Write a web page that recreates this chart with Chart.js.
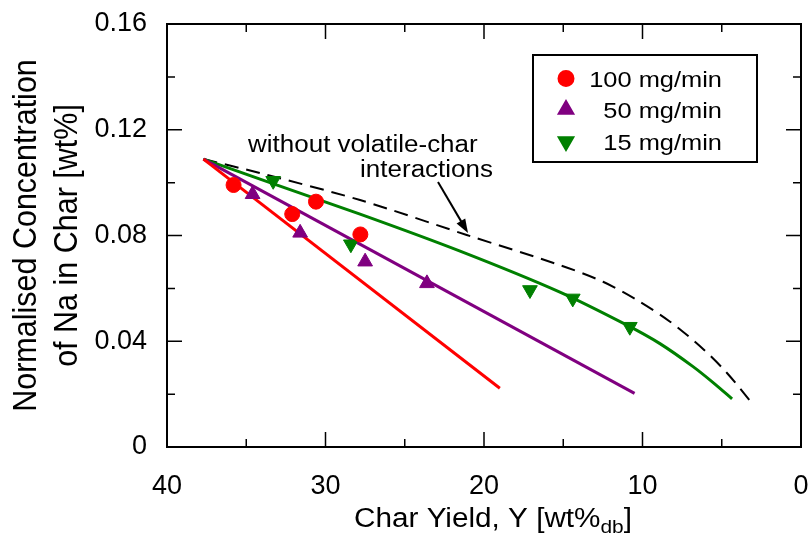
<!DOCTYPE html>
<html>
<head>
<meta charset="utf-8">
<script src="https://cdn.jsdelivr.net/npm/chart.js@4.4.1/dist/chart.umd.min.js"></script>
<style>
    html, body { margin: 0; padding: 0; background: #fff; }
    #wrap { width: 811px; height: 539px; }
</style>
</head>
<body>
<div id="wrap"><canvas id="naChart" width="811" height="539"></canvas></div>
<script>
// Measured points (char yield wt%, normalised Na wt%)
var red100X = [35.8, 32.1, 30.6, 27.8];
var red100Y = [0.0991, 0.0881, 0.0928, 0.0804];
var purple50X = [34.6, 31.6, 27.5, 23.6];
var purple50Y = [0.0956, 0.0810, 0.0701, 0.0619];
var green15X = [33.3, 28.4, 17.1, 14.4, 10.8];
var green15Y = [0.1007, 0.0767, 0.0594, 0.0562, 0.0455];

// Model curves
var redLineX = [37.7, 19.0];
var redLineY = [0.1089, 0.0222];
var purpleLineX = [37.7, 10.5];
var purpleLineY = [0.1089, 0.0203];
var greenLineX = [37.7, 34.13, 27.82, 21.51, 15.21, 10.98, 8.90, 6.81, 5.43, 4.35];
var greenLineY = [0.1089, 0.1013, 0.0881, 0.0741, 0.0586, 0.0461, 0.0391, 0.0304, 0.0238, 0.0182];
var noInterX = [37.7, 34.13, 27.82, 21.09, 15.21, 12.49, 10.35, 8.26, 6.18, 4.67, 3.22];
var noInterY = [0.1089, 0.1036, 0.0934, 0.0802, 0.0688, 0.0625, 0.0556, 0.0474, 0.0371, 0.0280, 0.0175];

// Axis ticks
var xMajorTicks = [10, 20, 30];
var xMinorTicks = [5, 15, 25, 35];
var yMajorTicks = [0.04, 0.08, 0.12];
var yMinorTicks = [0.02, 0.06, 0.10, 0.14];

var seriesNames = ['100 mg/min', '50 mg/min', '15 mg/min'];

var FONT = '"Liberation Sans", Arial, sans-serif';
var RED = '#ff0000';
var PURPLE = '#800080';
var GREEN = '#008000';

function toPoints(xs, ys) {
    var out = [];
    for (var i = 0; i < xs.length; i++) {
        out.push({x: xs[i], y: ys[i]});
    }
    return out;
}

// Text in the source is a bit wider than tall, so stretch it a little.
function wideText(ctx, text, x, y, size, align, sx) {
    ctx.save();
    ctx.font = size + 'px ' + FONT;
    ctx.translate(x, y);
    ctx.scale(sx, 1);
    ctx.textAlign = align;
    ctx.textBaseline = 'alphabetic';
    ctx.fillText(text, 0, 0);
    ctx.restore();
}

function marker(ctx, style, rotation, color, x, y, r) {
    ctx.save();
    ctx.fillStyle = color;
    ctx.strokeStyle = color;
    Chart.helpers.drawPoint(ctx, {pointStyle: style, rotation: rotation, radius: r, borderWidth: 1}, x, y);
    ctx.restore();
}

var decorations = {
    id: 'decorations',
    afterDatasetsDraw: function(chart) {
        var ctx = chart.ctx;
        var a = chart.chartArea;
        var xs = chart.scales.x;
        var ys = chart.scales.y;

        ctx.save();
        ctx.strokeStyle = '#000';
        ctx.fillStyle = '#000';

        // frame
        ctx.lineWidth = 2;
        ctx.strokeRect(a.left, a.top, a.right - a.left, a.bottom - a.top);

        // inward ticks on all four sides
        ctx.lineWidth = 1.5;
        ctx.beginPath();
        function xTick(v, len) {
            var px = xs.getPixelForValue(v);
            ctx.moveTo(px, a.bottom); ctx.lineTo(px, a.bottom - len);
            ctx.moveTo(px, a.top); ctx.lineTo(px, a.top + len);
        }
        function yTick(v, len) {
            var py = ys.getPixelForValue(v);
            ctx.moveTo(a.left, py); ctx.lineTo(a.left + len, py);
            ctx.moveTo(a.right, py); ctx.lineTo(a.right - len, py);
        }
        xMajorTicks.forEach(function(v) { xTick(v, 15); });
        xMinorTicks.forEach(function(v) { xTick(v, 8); });
        yMajorTicks.forEach(function(v) { yTick(v, 15); });
        yMinorTicks.forEach(function(v) { yTick(v, 8); });
        ctx.stroke();

        // legend box
        ctx.lineWidth = 2;
        ctx.strokeRect(533, 55, 224, 107);
        var rowY = [78.5, 109.5, 141.5];
        marker(ctx, 'circle', 0, RED, 566, rowY[0], 7.5);
        marker(ctx, 'triangle', 0, PURPLE, 566, rowY[1], 8.5);
        marker(ctx, 'triangle', 180, GREEN, 566, rowY[2], 8.5);
        wideText(ctx, seriesNames[0], 722, 86.5, 22.5, 'right', 1.13);
        wideText(ctx, seriesNames[1], 722, 117.5, 22.5, 'right', 1.13);
        wideText(ctx, seriesNames[2], 722, 149.5, 22.5, 'right', 1.13);

        // annotation and arrow
        wideText(ctx, 'without volatile-char', 248, 152, 23, 'left', 1.13);
        wideText(ctx, 'interactions', 493, 177, 23, 'right', 1.13);
        var x0 = 438, y0 = 182, x1 = 468, y1 = 233;
        var ang = Math.atan2(y1 - y0, x1 - x0);
        ctx.lineWidth = 2;
        ctx.beginPath();
        ctx.moveTo(x0, y0);
        ctx.lineTo(x1 - 10 * Math.cos(ang), y1 - 10 * Math.sin(ang));
        ctx.stroke();
        ctx.beginPath();
        ctx.moveTo(x1, y1);
        ctx.lineTo(x1 - 14 * Math.cos(ang) + 5 * Math.sin(ang), y1 - 14 * Math.sin(ang) - 5 * Math.cos(ang));
        ctx.lineTo(x1 - 14 * Math.cos(ang) - 5 * Math.sin(ang), y1 - 14 * Math.sin(ang) + 5 * Math.cos(ang));
        ctx.closePath();
        ctx.fill();

        // x axis title with subscript
        var main = 'Char Yield, Y [wt%';
        var sub = 'db';
        var sx = 1.1;
        ctx.font = '27px ' + FONT;
        var w1 = ctx.measureText(main).width * sx;
        var w3 = ctx.measureText(']').width * sx;
        ctx.font = '19px ' + FONT;
        var w2 = ctx.measureText(sub).width * sx;
        var start = 493 - (w1 + w2 + w3) / 2;
        wideText(ctx, main, start, 527, 27, 'left', sx);
        wideText(ctx, sub, start + w1, 533, 19, 'left', sx);
        wideText(ctx, ']', start + w1 + w2, 527, 27, 'left', sx);

        // y axis title, two rotated lines
        var cy = (a.top + a.bottom) / 2;
        var lines = [['Normalised Concentration', 36], ['of Na in Char [wt%]', 77]];
        lines.forEach(function(l) {
            ctx.save();
            ctx.translate(l[1], cy);
            ctx.rotate(-Math.PI / 2);
            ctx.scale(1, 1.08);
            ctx.font = '30.5px ' + FONT;
            ctx.textAlign = 'center';
            ctx.textBaseline = 'alphabetic';
            ctx.fillText(l[0], 0, 0);
            ctx.restore();
        });

        ctx.restore();
    }
};

var canvas = document.getElementById('naChart');

new Chart(canvas.getContext('2d'), {
    type: 'scatter',
    data: {
        datasets: [
            {
                label: seriesNames[0],
                data: toPoints(red100X, red100Y),
                pointStyle: 'circle',
                pointRadius: 7.5,
                backgroundColor: RED,
                borderColor: RED,
                borderWidth: 1,
                order: 0
            },
            {
                label: seriesNames[1],
                data: toPoints(purple50X, purple50Y),
                pointStyle: 'triangle',
                pointRadius: 8.5,
                backgroundColor: PURPLE,
                borderColor: PURPLE,
                borderWidth: 1,
                order: 0
            },
            {
                label: seriesNames[2],
                data: toPoints(green15X, green15Y),
                pointStyle: 'triangle',
                rotation: 180,
                pointRadius: 8.5,
                backgroundColor: GREEN,
                borderColor: GREEN,
                borderWidth: 1,
                order: 0
            },
            {
                label: 'model 100',
                data: toPoints(redLineX, redLineY),
                showLine: true,
                borderColor: RED,
                borderWidth: 3,
                pointRadius: 0,
                order: 1
            },
            {
                label: 'model 50',
                data: toPoints(purpleLineX, purpleLineY),
                showLine: true,
                borderColor: PURPLE,
                borderWidth: 3,
                pointRadius: 0,
                order: 1
            },
            {
                label: 'model 15',
                data: toPoints(greenLineX, greenLineY),
                showLine: true,
                borderColor: GREEN,
                borderWidth: 3,
                pointRadius: 0,
                tension: 0.3,
                order: 1
            },
            {
                label: 'without volatile-char interactions',
                data: toPoints(noInterX, noInterY),
                showLine: true,
                borderColor: '#000',
                borderWidth: 2,
                borderDash: [14, 8],
                pointRadius: 0,
                tension: 0.3,
                order: 1
            }
        ]
    },
    options: {
        responsive: false,
        animation: false,
        layout: {
            padding: {top: 24, right: 10, left: 0, bottom: 0}
        },
        plugins: {
            legend: {display: false},
            tooltip: {enabled: false}
        },
        scales: {
            x: {
                type: 'linear',
                reverse: true,
                min: 0,
                max: 40,
                afterFit: function(scale) {
                    scale.height = 92;
                    scale.paddingLeft = 0;
                    scale.paddingRight = 0;
                },
                grid: {display: false},
                border: {display: false},
                ticks: {
                    stepSize: 10,
                    padding: 15,
                    color: '#000',
                    font: {family: FONT, size: 27}
                }
            },
            y: {
                type: 'linear',
                min: 0,
                max: 0.16,
                afterFit: function(scale) {
                    scale.width = 167;
                    scale.paddingTop = 0;
                    scale.paddingBottom = 0;
                },
                grid: {display: false},
                border: {display: false},
                ticks: {
                    stepSize: 0.04,
                    padding: 12,
                    color: '#000',
                    font: {family: FONT, size: 27},
                    callback: function(v) {
                        return v === 0 ? '0' : v.toFixed(2);
                    }
                }
            }
        }
    },
    plugins: [decorations]
});
</script>
</body>
</html>
